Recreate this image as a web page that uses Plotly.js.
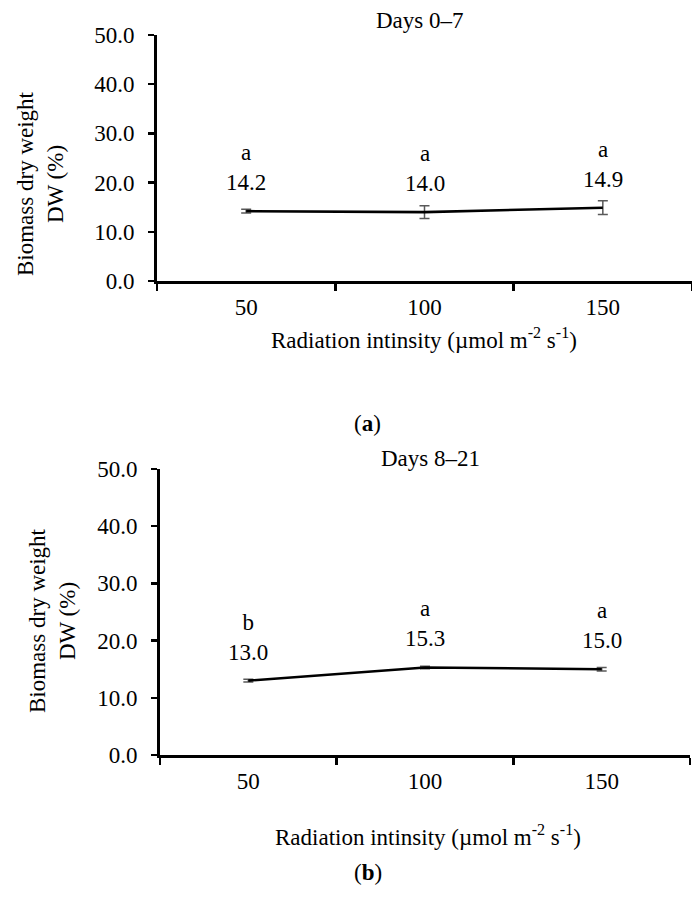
<!DOCTYPE html>
<html>
<head>
<meta charset="utf-8">
<script src="https://cdn.plot.ly/plotly-3.0.1.min.js"></script>
<style>html,body{margin:0;padding:0;background:#fff;}#chart{width:692px;height:898px;}</style>
</head>
<body>
<div id="chart"></div>
<script>
// Data
const categories = ["50", "100", "150"];
const days07Values = [14.2, 14.0, 14.9];
const days07Errors = [0.4, 1.3, 1.4];
const days07Letters = ["a", "a", "a"];
const days821Values = [13.0, 15.3, 15.0];
const days821Errors = [0.25, 0.2, 0.3];
const days821Letters = ["b", "a", "a"];
const yTickVals = [0, 10, 20, 30, 40, 50];

const FONT = "Liberation Serif, Times New Roman, serif";
const FS = 23;
const W = 692, H = 898;
const px = v => v / W;
const py = v => 1 - v / H;

function trace(vals, errs, xa, ya) {
  return {
    type: "scatter", mode: "lines", x: categories, y: vals,
    xaxis: xa, yaxis: ya,
    line: {color: "#000", width: 2.6},
    error_y: {type: "data", array: errs, visible: true, color: "#595959", thickness: 1.5, width: 5},
    hoverinfo: "skip", showlegend: false
  };
}

function xAxis(domain, anchor) {
  return {
    type: "category", categoryorder: "array", categoryarray: categories,
    domain: domain, anchor: anchor, range: [-0.5, 2.5],
    tickson: "boundaries", ticks: "outside", ticklen: 7, tickwidth: 2.5, tickcolor: "#000",
    showline: true, linewidth: 2.8, linecolor: "#000", showgrid: false, zeroline: false,
    tickfont: {family: FONT, size: FS, color: "#000"}, ticklabelstandoff: 4, fixedrange: true
  };
}
function yAxis(domain, anchor) {
  return {
    domain: domain, anchor: anchor, range: [0, 50], tickvals: yTickVals, tickformat: ".1f",
    ticks: "outside", ticklen: 6, tickwidth: 2.5, tickcolor: "#000",
    showline: true, linewidth: 2.8, linecolor: "#000", showgrid: false, zeroline: false,
    tickfont: {family: FONT, size: FS, color: "#000"}, ticklabelstandoff: 9, fixedrange: true
  };
}

function labelAnns(vals, letters, xref, yref) {
  return vals.map((v, i) => ({
    x: i, y: v, xref: xref, yref: yref,
    text: letters[i] + "<br>" + v.toFixed(1),
    showarrow: false, yanchor: "bottom", xanchor: "center", yshift: 14,
    font: {family: FONT, size: FS, color: "#000"}
  }));
}

function paperText(text, x, y, opts) {
  return Object.assign({
    text: text, x: px(x), y: py(y), xref: "paper", yref: "paper",
    showarrow: false, xanchor: "center", yanchor: "middle",
    font: {family: FONT, size: FS, color: "#000"}
  }, opts || {});
}

const xTitle = "Radiation intinsity (µmol m<sup>-2</sup> s<sup>-1</sup>)";
const yTitle = "Biomass dry weight<br>DW (%)";

const annotations = []
  .concat(labelAnns(days07Values, days07Letters, "x", "y"))
  .concat(labelAnns(days821Values, days821Letters, "x2", "y2"))
  .concat([
    paperText("Days 0–7", 420, 20),
    paperText(xTitle, 424, 338),
    paperText("(<b>a</b>)", 368, 423),
    paperText("Days 8–21", 430, 458),
    paperText(xTitle, 428, 835),
    paperText("(<b>b</b>)", 368, 872),
    paperText(yTitle, 40, 184, {textangle: -90}),
    paperText(yTitle, 52, 621, {textangle: -90})
  ]);

const layout = {
  width: W, height: H, autosize: false,
  margin: {l: 0, r: 0, t: 0, b: 0},
  paper_bgcolor: "#fff", plot_bgcolor: "#fff",
  showlegend: false,
  xaxis: xAxis([px(157), 1], "y"),
  yaxis: yAxis([py(281), py(35)], "x"),
  xaxis2: xAxis([px(160), px(690)], "y2"),
  yaxis2: yAxis([py(755), py(469)], "x2"),
  annotations: annotations
};

Plotly.newPlot("chart", [
  trace(days07Values, days07Errors, "x", "y"),
  trace(days821Values, days821Errors, "x2", "y2")
], layout, {staticPlot: true, displayModeBar: false});
</script>
</body>
</html>
